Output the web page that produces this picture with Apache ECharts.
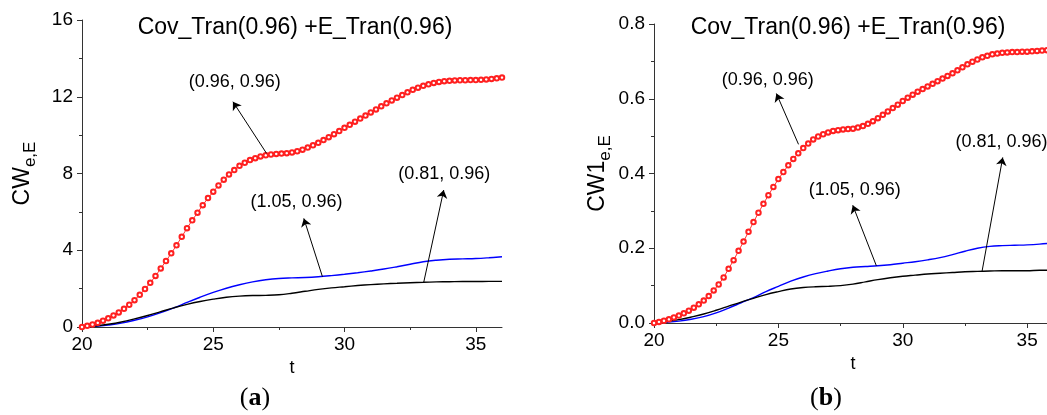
<!DOCTYPE html>
<html><head><meta charset="utf-8">
<script src="https://cdn.jsdelivr.net/npm/echarts@6/dist/echarts.min.js"></script>
<style>html,body{margin:0;padding:0;background:#fff}#c{width:1047px;height:415px}</style>
</head><body><div id="c"></div>
<script>
// time grid of the marker series (step 0.2) and of the smooth lines (step 0.5)
const tDense=[20,20.2,20.4,20.6,20.8,21,21.2,21.4,21.6,21.8,22,22.2,22.4,22.6,22.8,23,23.2,23.4,23.6,23.8,24,24.2,24.4,24.6,24.8,25,25.2,25.4,25.6,25.8,26,26.2,26.4,26.6,26.8,27,27.2,27.4,27.6,27.8,28,28.2,28.4,28.6,28.8,29,29.2,29.4,29.6,29.8,30,30.2,30.4,30.6,30.8,31,31.2,31.4,31.6,31.8,32,32.2,32.4,32.6,32.8,33,33.2,33.4,33.6,33.8,34,34.2,34.4,34.6,34.8,35,35.2,35.4,35.6,35.8,36];
const tCoarse=[20,20.5,21,21.5,22,22.5,23,23.5,24,24.5,25,25.5,26,26.5,27,27.5,28,28.5,29,29.5,30,30.5,31,31.5,32,32.5,33,33.5,34,34.5,35,35.5,36];

// panel (a): CW_e,E
const redA=[0.00,0.06,0.13,0.22,0.33,0.45,0.60,0.76,0.95,1.16,
1.40,1.68,1.98,2.30,2.66,3.05,3.44,3.84,4.26,4.70,
5.15,5.56,5.96,6.35,6.72,7.05,7.38,7.68,7.95,8.18,
8.40,8.56,8.70,8.80,8.89,8.95,8.99,9.02,9.04,9.06,
9.10,9.16,9.24,9.35,9.47,9.60,9.74,9.89,10.05,10.21,
10.38,10.54,10.70,10.86,11.02,11.18,11.34,11.50,11.66,11.81,
11.95,12.09,12.23,12.36,12.47,12.57,12.65,12.72,12.77,12.81,
12.83,12.85,12.86,12.86,12.87,12.87,12.88,12.90,12.93,12.96,
13.00];
const blueA=[0.00,0.03,0.10,0.20,0.35,0.53,0.75,1.00,1.28,1.55,1.80,2.02,2.20,2.35,2.46,2.53,2.56,2.58,2.62,2.68,2.75,2.83,2.92,3.02,3.14,3.27,3.40,3.48,3.53,3.55,3.57,3.61,3.66];
const blackA=[0.00,0.05,0.14,0.26,0.42,0.60,0.80,1.00,1.18,1.33,1.45,1.55,1.61,1.64,1.65,1.68,1.76,1.86,1.96,2.04,2.10,2.16,2.21,2.25,2.28,2.31,2.33,2.35,2.36,2.37,2.37,2.38,2.38];

// panel (b): CW1_e,E
const redB=[0.000,0.003,0.006,0.010,0.015,0.020,0.026,0.033,0.041,0.050,
0.060,0.072,0.087,0.103,0.122,0.145,0.168,0.193,0.218,0.244,
0.270,0.295,0.319,0.342,0.364,0.385,0.404,0.422,0.439,0.454,
0.468,0.480,0.491,0.499,0.505,0.510,0.514,0.516,0.518,0.519,
0.520,0.523,0.527,0.533,0.540,0.548,0.557,0.566,0.575,0.584,
0.594,0.603,0.611,0.619,0.626,0.633,0.640,0.647,0.654,0.661,
0.668,0.676,0.684,0.692,0.699,0.705,0.711,0.715,0.719,0.721,
0.723,0.724,0.725,0.725,0.726,0.726,0.727,0.728,0.729,0.730,
0.732];
const blueB=[0.000,0.002,0.005,0.010,0.017,0.027,0.040,0.054,0.068,0.084,0.098,0.112,0.123,0.132,0.139,0.145,0.149,0.151,0.153,0.156,0.160,0.164,0.169,0.175,0.183,0.192,0.200,0.205,0.207,0.208,0.209,0.211,0.214];
const blackB=[0.000,0.004,0.009,0.016,0.024,0.034,0.045,0.056,0.066,0.076,0.084,0.091,0.095,0.097,0.098,0.100,0.104,0.110,0.116,0.121,0.125,0.128,0.131,0.133,0.135,0.137,0.138,0.139,0.140,0.140,0.140,0.141,0.141];

// tick labels
const xTicks=[20,25,30,35];
const xMinorTicks=[22.5,27.5,32.5];

// annotations (data coordinates): label text, arrow tail on curve, arrow head, label centre
const annotA=[
  {text:'(0.96, 0.96)', from:[27.03,9.05], to:[25.75,11.74], at:[25.82,12.77]},
  {text:'(1.05, 0.96)', from:[29.16,2.62], to:[28.45,5.66], at:[28.17,6.53]},
  {text:'(0.81, 0.96)', from:[33.02,2.34], to:[33.78,7.14], at:[33.8,7.97]}
];
const annotB=[
  {text:'(0.96, 0.96)', from:[25.81,0.478], to:[24.92,0.614], at:[24.57,0.65]},
  {text:'(1.05, 0.96)', from:[28.94,0.153], to:[27.99,0.315], at:[28.07,0.357]},
  {text:'(0.81, 0.96)', from:[33.19,0.139], to:[34.02,0.443], at:[33.97,0.485]}
];

const FONT='"Liberation Sans", Arial, sans-serif';
const AX='#333';
const pair=(ts,vs)=>ts.map((t,i)=>[t,vs[i]]);

function xAxes(gi){
  return [
    {type:'value',gridIndex:gi,min:20,max:36,interval:5,
     axisLine:{show:true,lineStyle:{color:AX,width:1}},
     axisTick:{show:true,customValues:xTicks,length:5,lineStyle:{color:AX}},
     axisLabel:{customValues:xTicks,fontSize:19,color:'#000',fontFamily:FONT,margin:8},
     splitLine:{show:false},
     name:'t',nameLocation:'middle',nameGap:gi===0?27:24,
     nameTextStyle:{fontSize:18,fontFamily:FONT,color:'#000'}},
    {type:'value',gridIndex:gi,min:20,max:36,position:'bottom',
     axisLine:{show:false},
     axisTick:{show:true,customValues:xMinorTicks,length:3,lineStyle:{color:AX}},
     axisLabel:{show:false},splitLine:{show:false}}
  ];
}
function yAxis(gi,max,interval,fmt,sub){
  return {type:'value',gridIndex:gi,min:0,max:max,interval:interval,
    axisLine:{show:true,lineStyle:{color:AX,width:1}},
    axisTick:{show:true,length:5,lineStyle:{color:AX}},
    minorTick:{show:true,splitNumber:2,length:3,lineStyle:{color:AX}},
    axisLabel:{fontSize:19,color:'#000',fontFamily:FONT,margin:9,formatter:fmt},
    splitLine:{show:false},
    name:'{a|'+sub+'}{b|e,E}',nameLocation:'middle',nameGap:gi===0?43:40,
    nameTextStyle:{color:'#000',fontFamily:FONT,
      rich:{a:{fontSize:23,fontFamily:FONT,color:'#000',verticalAlign:'bottom',padding:[0,0,5,0]},
            b:{fontSize:17,fontFamily:FONT,color:'#000',verticalAlign:'bottom'}}}
  };
}
function marks(ann){
  return {
    markLine:{silent:true,animation:false,symbol:['none','arrow'],symbolSize:8,
      lineStyle:{color:'#000',width:1,type:'solid'},label:{show:false},
      data:ann.map(a=>[{coord:a.from},{coord:a.to}])},
    markPoint:{silent:true,animation:false,symbol:'rect',symbolSize:1,
      itemStyle:{color:'rgba(0,0,0,0)'},
      label:{show:true,position:'inside',formatter:'{b}',color:'#000',fontSize:18,fontFamily:FONT},
      data:ann.map(a=>({name:a.text,coord:a.at}))}
  };
}
function panelSeries(xi,yi,red,blue,black,ann){
  return [
    Object.assign({type:'line',xAxisIndex:xi,yAxisIndex:yi,data:pair(tDense,red),
      symbol:'emptyCircle',symbolSize:4.5,showAllSymbol:true,z:4,
      lineStyle:{color:'#ff0000',width:0.8},itemStyle:{color:'#ff2020',borderColor:'#ff2020',borderWidth:0.8}},marks(ann)),
    {type:'line',xAxisIndex:xi,yAxisIndex:yi,data:pair(tCoarse,blue),smooth:0.4,showSymbol:false,z:3,
      lineStyle:{color:'#0000ff',width:1.4}},
    {type:'line',xAxisIndex:xi,yAxisIndex:yi,data:pair(tCoarse,black),smooth:0.4,showSymbol:false,z:3,
      lineStyle:{color:'#000000',width:1.4}}
  ];
}

const chart=echarts.init(document.getElementById('c'));
chart.setOption({
  animation:false,
  backgroundColor:'#fff',
  grid:[
    {left:82,top:20,width:420,bottom:88,outerBoundsMode:'none',containLabel:false},
    {left:654,top:24,width:398,bottom:92,outerBoundsMode:'none',containLabel:false}
  ],
  xAxis:[...xAxes(0),...xAxes(1)],
  yAxis:[
    yAxis(0,16,4,v=>String(v),'CW'),
    yAxis(1,0.8,0.2,v=>v.toFixed(1),'CW1')
  ],
  series:[
    ...panelSeries(0,0,redA,blueA,blackA,annotA),
    ...panelSeries(2,1,redB,blueB,blackB,annotB)
  ],
  graphic:[
    {type:'text',x:295,y:28,style:{text:'Cov_Tran(0.96) +E_Tran(0.96)',fill:'#000',font:'23px "Liberation Sans", Arial, sans-serif',align:'center',verticalAlign:'middle',textAlign:'center',textVerticalAlign:'middle'}},
    {type:'text',x:848,y:28,style:{text:'Cov_Tran(0.96) +E_Tran(0.96)',fill:'#000',font:'23px "Liberation Sans", Arial, sans-serif',align:'center',verticalAlign:'middle',textAlign:'center',textVerticalAlign:'middle'}},
    {type:'text',x:255,y:398,style:{text:'{p|(}{b|a}{p|)}',align:'center',verticalAlign:'middle',textAlign:'center',textVerticalAlign:'middle',
      rich:{p:{font:'26px "Liberation Serif", serif',fill:'#000'},b:{font:'bold 26px "Liberation Serif", serif',fill:'#000'}}}},
    {type:'text',x:826,y:398,style:{text:'{p|(}{b|b}{p|)}',align:'center',verticalAlign:'middle',textAlign:'center',textVerticalAlign:'middle',
      rich:{p:{font:'26px "Liberation Serif", serif',fill:'#000'},b:{font:'bold 26px "Liberation Serif", serif',fill:'#000'}}}}
  ]
});
</script></body></html>
